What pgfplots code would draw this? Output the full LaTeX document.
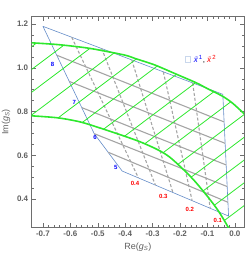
\documentclass[border=0pt]{standalone}
\usepackage{pgfplots}
\pgfplotsset{compat=1.18}
\usepackage{fontspec}
\setmainfont{Liberation Sans}
\definecolor{mgreen}{RGB}{45,232,45}
\definecolor{mblue}{RGB}{100,140,200}
\definecolor{mgray}{RGB}{165,165,165}
\definecolor{framegray}{RGB}{110,110,110}
\definecolor{labgray}{RGB}{95,95,95}
\begin{document}
\begin{tikzpicture}
\begin{axis}[
  scale only axis, width=212.5pt, height=210.5pt,
  xmin=-0.741, xmax=0.034, ymin=0.272, ymax=1.235,
  axis line style={framegray, line width=0.6pt},
  tick align=inside,
  major tick length=4pt, minor tick length=2pt,
  every tick/.style={framegray, line width=0.5pt},
  xtick={-0.7,-0.6,-0.5,-0.4,-0.3,-0.2,-0.1,0},
  xticklabels={-0.7,-0.6,-0.5,-0.4,-0.3,-0.2,-0.1,0.0},
  ytick={0.4,0.6,0.8,1.0,1.2},
  yticklabels={0.4,0.6,0.8,1.0,1.2},
  minor x tick num=4, minor y tick num=3,
  ticklabel style={font=\fontsize{8}{8}\selectfont\bfseries, text=labgray},
  xlabel={Re(\textit{g}\textsubscript{\textit{S}})},
  ylabel={Im(\textit{g}\textsubscript{\textit{S}})},
  label style={font=\fontsize{9}{9}\selectfont, text=labgray},
  legend style={draw=none, fill=none, at={(axis cs:-0.1843,1.038)}, anchor=west,
    font=\fontsize{8}{8}\selectfont, inner sep=0pt, nodes={inner sep=0pt}},
  legend image code/.code={%
    \draw[draw=mblue!35, line width=0.6pt] (0pt,-2.8pt) rectangle (5.6pt,2.8pt);
    \path (8.8pt,0pt);},
]
% parameter grid: outline
\addplot[mblue, line width=0.6pt, forget plot] coordinates {
  (-0.700,1.190) (-0.044,0.879) (-0.023,0.322) (-0.411,0.528) (-0.513,0.699) (-0.700,1.190)};
% constant x1 lines (solid)
\addplot[mgray, line width=1.1pt, forget plot] coordinates {(-0.462,0.614) (-0.025,0.385)};
\addplot[mgray, line width=1.1pt, forget plot] coordinates {(-0.513,0.699) (-0.028,0.457)};
\addplot[mgray, line width=1.1pt, forget plot] coordinates {(-0.558,0.818) (-0.032,0.556)};
\addplot[mgray, line width=1.1pt, forget plot] coordinates {(-0.604,0.938) (-0.036,0.655)};
\addplot[mgray, line width=1.1pt, forget plot] coordinates {(-0.650,1.058) (-0.040,0.753)};
% constant x2 lines (dashed)
\addplot[mgray, line width=1.1pt, dash pattern=on 3pt off 2pt, forget plot] coordinates {(-0.595,1.140) (-0.352,0.497)};
\addplot[mgray, line width=1.1pt, dash pattern=on 3pt off 2pt, forget plot] coordinates {(-0.486,1.089) (-0.290,0.464)};
\addplot[mgray, line width=1.1pt, dash pattern=on 3pt off 2pt, forget plot] coordinates {(-0.376,1.036) (-0.226,0.430)};
\addplot[mgray, line width=1.1pt, dash pattern=on 3pt off 2pt, forget plot] coordinates {(-0.261,0.982) (-0.156,0.393)};
\addplot[mgray, line width=1.1pt, dash pattern=on 3pt off 2pt, forget plot] coordinates {(-0.154,0.931) (-0.090,0.358)};
% green hatch lines
\addplot[mgreen, line width=0.8pt, forget plot] coordinates {(-0.800,1.0415) (-0.7242,1.1131)};
\addplot[mgreen, line width=0.8pt, forget plot] coordinates {(-0.800,0.9373) (-0.6241,1.1033)};
\addplot[mgreen, line width=0.8pt, forget plot] coordinates {(-0.800,0.8331) (-0.5292,1.0887)};
\addplot[mgreen, line width=0.8pt, forget plot] coordinates {(-0.7452,0.7806) (-0.4406,1.0682)};
\addplot[mgreen, line width=0.8pt, forget plot] coordinates {(-0.6451,0.7709) (-0.3590,1.0410)};
\addplot[mgreen, line width=0.8pt, forget plot] coordinates {(-0.5569,0.7500) (-0.2832,1.0084)};
\addplot[mgreen, line width=0.8pt, forget plot] coordinates {(-0.4788,0.7195) (-0.2127,0.9707)};
\addplot[mgreen, line width=0.8pt, forget plot] coordinates {(-0.4026,0.6872) (-0.1427,0.9326)};
\addplot[mgreen, line width=0.8pt, forget plot] coordinates {(-0.3291,0.6524) (-0.0769,0.8905)};
\addplot[mgreen, line width=0.8pt, forget plot] coordinates {(-0.2626,0.6110) (-0.0153,0.8445)};
\addplot[mgreen, line width=0.8pt, forget plot] coordinates {(-0.2082,0.5582) (0.060,0.8113)};
\addplot[mgreen, line width=0.8pt, forget plot] coordinates {(-0.1600,0.4995) (0.060,0.7071)};
\addplot[mgreen, line width=0.8pt, forget plot] coordinates {(-0.1161,0.4367) (0.060,0.6029)};
\addplot[mgreen, line width=0.8pt, forget plot] coordinates {(-0.0750,0.3713) (0.060,0.4987)};
\addplot[mgreen, line width=0.8pt, forget plot] coordinates {(-0.0384,0.3017) (0.060,0.3945)};
% green boundaries
\addplot[mgreen, line width=1.6pt, smooth, forget plot] coordinates {
  (-0.760,1.116) (-0.650,1.107) (-0.550,1.093) (-0.492,1.081) (-0.400,1.058) (-0.364,1.043)
  (-0.300,1.017) (-0.261,0.997) (-0.206,0.967) (-0.163,0.944) (-0.133,0.927) (-0.100,0.905)
  (-0.046,0.871) (-0.010,0.840) (0.034,0.790) (0.050,0.770)};
\addplot[mgreen, line width=1.6pt, smooth, forget plot] coordinates {
  (-0.760,0.782) (-0.650,0.772) (-0.565,0.753) (-0.492,0.725) (-0.420,0.695) (-0.346,0.662)
  (-0.279,0.624) (-0.236,0.590) (-0.182,0.528) (-0.145,0.480) (-0.109,0.426) (-0.080,0.380)
  (-0.060,0.345) (-0.040,0.305) (-0.025,0.272) (-0.015,0.250)};
% labels
\node[text=blue, font=\fontsize{6}{6}\selectfont\bfseries] at (axis cs:-0.434,0.545) {5};
\node[text=blue, font=\fontsize{6}{6}\selectfont\bfseries] at (axis cs:-0.510,0.682) {6};
\node[text=blue, font=\fontsize{6}{6}\selectfont\bfseries] at (axis cs:-0.586,0.840) {7};
\node[text=blue, font=\fontsize{6}{6}\selectfont\bfseries] at (axis cs:-0.665,1.016) {8};
\node[text=red, font=\fontsize{6}{6}\selectfont\bfseries] at (axis cs:-0.364,0.472) {0.4};
\node[text=red, font=\fontsize{6}{6}\selectfont\bfseries] at (axis cs:-0.261,0.410) {0.3};
\node[text=red, font=\fontsize{6}{6}\selectfont\bfseries] at (axis cs:-0.164,0.354) {0.2};
\node[text=red, font=\fontsize{6}{6}\selectfont\bfseries] at (axis cs:-0.062,0.300) {0.1};
% legend
\addlegendimage{mblue}
\addlegendentry{{\color{blue}\textit{x̄}\textsuperscript{1}}, {\color{red}\textit{x̄}\textsuperscript{2}}}
% title
\node[anchor=base, text=labgray, font=\fontsize{11}{11}\selectfont\bfseries] at (rel axis cs:0.552,1) [yshift=4.5pt]
  {Model I, tan\textit{β}=0.1, \textit{m}\textsubscript{\textit{H}\textsuperscript{±}}\,=400};
\end{axis}
\pgfresetboundingbox
\path (current axis.south west) ++(-31.7pt,-31pt) rectangle ++(245pt,258pt);
\end{tikzpicture}
\end{document}
